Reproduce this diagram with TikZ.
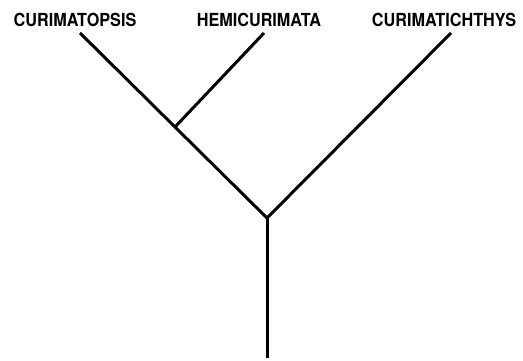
\documentclass[tikz,border=0pt]{standalone}
\usepackage{fontspec}
\setsansfont{TeX Gyre Heros}
\begin{document}
\begin{tikzpicture}[
      x=1pt, y=-1pt,
      taxon/.style={font=\sffamily\bfseries\fontsize{18}{18}\selectfont, inner sep=0pt, xscale=0.9},
      rama/.style={line width=3pt, line cap=butt}
    ]
    \useasboundingbox (0,0) rectangle (523,361);
    % --- nombres de los taxones ---
    \node[taxon] (t1) at (75,20) {CURIMATOPSIS};
    \node[taxon] (t2) at (259,20) {HEMICURIMATA};
    \node[taxon] (t3) at (444,20) {CURIMATICHTHYS};
    % --- extremos y nodos internos ---
    \coordinate (p1) at (80,33);
    \coordinate (p2) at (264,33);
    \coordinate (p3) at (451,33);
    \coordinate (n1) at (175,127);
    \coordinate (n2) at (267,218);
    \coordinate (raiz) at (267,358);
    % --- ramas ---
    \draw[rama] (p1) -- (n1);
    \draw[rama] (p2) -- (n1);
    \draw[rama] (n1) -- (n2);
    \draw[rama] (p3) -- (n2);
    \draw[rama] (n2) -- (raiz);
  \end{tikzpicture}
\end{document}
